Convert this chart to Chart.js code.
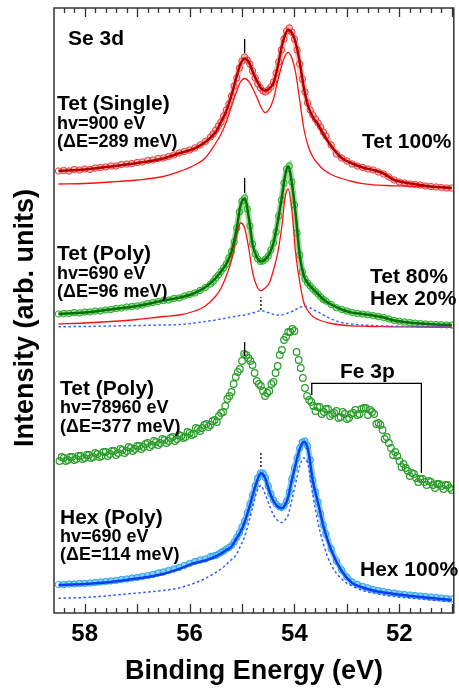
<!DOCTYPE html>
<html>
<head>
<meta charset="utf-8">
<script src="https://cdn.jsdelivr.net/npm/chart.js@4.4.1/dist/chart.umd.min.js"></script>
<style>
  html, body { margin: 0; padding: 0; background: #fff; }
  #wrap { width: 459px; height: 692px; position: relative; }
</style>
</head>
<body>
<div id="wrap"><canvas id="chart"></canvas></div>
<script>
// Se 3d core-level spectra, energies in eV, intensities in arb. units
// (each spectrum already carries its vertical offset)

// energy grid of the densely sampled spectra
const denseEnergy = [
  58.5, 58.4, 58.3, 58.2, 58.1, 58.0, 57.9, 57.8, 57.7, 57.6,
  57.5, 57.4, 57.3, 57.2, 57.1, 57.0, 56.9, 56.8, 56.7, 56.6,
  56.5, 56.4, 56.3, 56.2, 56.1, 56.0, 55.9, 55.8, 55.7, 55.6,
  55.55, 55.5, 55.45, 55.4, 55.35, 55.3, 55.25, 55.2, 55.15, 55.1,
  55.05, 55.0, 54.95, 54.9, 54.85, 54.8, 54.75, 54.7, 54.65, 54.6,
  54.55, 54.5, 54.45, 54.4, 54.35, 54.3, 54.25, 54.2, 54.15, 54.1,
  54.05, 54.0, 53.95, 53.9, 53.85, 53.8, 53.75, 53.7, 53.65, 53.6,
  53.55, 53.5, 53.45, 53.4, 53.3, 53.2, 53.1, 53.0, 52.9, 52.8,
  52.7, 52.6, 52.5, 52.4, 52.3, 52.2, 52.1, 52.0, 51.9, 51.8,
  51.7, 51.6, 51.5, 51.4, 51.3, 51.2, 51.1, 51.0
];

// Tet (Single), hv=900 eV
const tetSingleData = [
  442, 442.5, 442, 443.5, 443, 444, 443.5, 445, 445.5, 446,
  447, 447, 448.5, 449, 449.5, 450.5, 451, 452.5, 453, 454.5,
  455, 456.5, 458, 460, 461.5, 463, 465, 468, 471.5, 476,
  479, 483, 487, 491, 497, 503, 509, 517, 527, 535,
  545, 552, 556, 553, 549, 542, 535, 529, 525, 522,
  521, 523, 526, 531, 540, 551, 563, 574, 582, 585,
  581, 574, 563, 549, 534, 521, 510, 503, 498, 494,
  490, 486, 481, 477, 468, 459, 455, 452, 449, 447,
  445.5, 444, 443, 441, 439, 436, 433, 431, 430, 429,
  428.5, 428, 427, 426.5, 426, 425.5, 425, 425
];

// Tet (Poly), hv=690 eV
const tetPolyData = [
  299, 299.5, 299.5, 300.5, 300, 301, 301, 302, 302, 303,
  303.5, 304.5, 305, 306, 306.5, 307, 308, 309.5, 310.5, 311.5,
  312.5, 313, 314.5, 315, 317, 318.5, 320, 322.5, 325.5, 329,
  331.5, 335, 338, 341.5, 345, 349, 355, 361.5, 371, 385,
  401, 412, 415, 404, 387, 369, 359, 354, 351.5, 352,
  354, 357, 363, 370, 381, 397, 413, 430, 444, 447,
  431, 408, 380, 358, 341, 334, 330, 327, 324, 321.5,
  319, 316, 313.5, 312, 308.5, 305.3, 303.5, 302, 300.5, 299.5,
  299, 298.2, 297.4, 296.5, 295.5, 294, 292.5, 291.7, 291, 290.4,
  289.9, 289.4, 289, 288.7, 288.5, 288.3, 288.1, 288
];

// Hex (Poly), hv=690 eV
const hexPolyData = [
  28.5, 28.5, 29, 29, 29.5, 29.5, 30, 30.5, 31, 31.5,
  32, 32.5, 33.5, 34, 35, 35.5, 36.5, 37.5, 38.5, 40,
  41, 42.5, 44, 45.5, 47.5, 49.5, 51.5, 53, 54, 56.5,
  57, 57.5, 59, 60.5, 62, 64, 65.5, 67.5, 71, 75.5,
  80, 86, 92, 100, 109, 118, 127, 135, 140, 140,
  135, 127, 119, 113, 109, 106.5, 105.5, 107, 112, 121,
  134, 145, 155, 165, 171, 172, 167, 153, 133, 121,
  111, 99, 88, 79, 64, 52, 43, 36, 31, 28.5,
  26.5, 25, 23.5, 22.5, 21.5, 20.5, 20, 19, 18.5, 18,
  17.5, 17, 16.5, 16, 15.5, 15, 14.5, 14
];

// Tet (Poly), hv=78960 eV (sparse, noisy)
const hardEnergy = [
  58.48, 58.40, 58.32, 58.24, 58.16, 58.08, 58.00, 57.92, 57.84, 57.76,
  57.68, 57.60, 57.52, 57.44, 57.36, 57.28, 57.20, 57.12, 57.04, 56.96,
  56.88, 56.80, 56.72, 56.64, 56.56, 56.48, 56.40, 56.32, 56.24, 56.16,
  56.08, 56.00, 55.92, 55.84, 55.76, 55.68, 55.60, 55.52, 55.44, 55.36,
  55.32, 55.28, 55.24, 55.20, 55.16, 55.12, 55.08, 55.04, 55.00, 54.96,
  54.92, 54.88, 54.84, 54.80, 54.76, 54.72, 54.68, 54.64, 54.60, 54.56,
  54.52, 54.48, 54.44, 54.40, 54.36, 54.32, 54.28, 54.24, 54.20, 54.16,
  54.12, 54.08, 54.04, 54.00, 53.96, 53.92, 53.88, 53.84, 53.80, 53.76,
  53.72, 53.68, 53.64, 53.60, 53.52, 53.44, 53.36, 53.28, 53.20, 53.12,
  53.04, 52.96, 52.88, 52.80, 52.72, 52.64, 52.56, 52.48, 52.40, 52.32,
  52.24, 52.16, 52.08, 52.00, 51.92, 51.84, 51.76, 51.68, 51.60, 51.52,
  51.44, 51.36, 51.28, 51.20, 51.12, 51.04,
  // in-between readings of the flat parts
  58.44, 58.36, 58.28, 58.20, 58.12, 58.04, 57.96, 57.88, 57.80, 57.72,
  57.64, 57.56, 57.48, 57.40, 57.32, 57.24, 57.16, 57.08, 57.00, 56.92,
  56.84, 56.76, 56.68, 56.60, 56.52, 56.44, 56.36, 56.28, 56.20, 56.12,
  56.04, 55.96, 55.88, 55.80, 55.72, 55.64, 55.56, 55.48, 55.40,
  53.56, 53.48, 53.40, 53.32, 53.24, 53.16, 53.08, 53.00, 52.92, 52.84,
  52.76, 52.68, 52.60, 52.52, 52.44, 52.36, 52.28, 52.20, 52.12, 52.04,
  51.96, 51.88, 51.80, 51.72, 51.64, 51.56, 51.48, 51.40, 51.32, 51.24,
  51.16, 51.08, 51.00
];
const hardData = [
  152, 155, 153, 156, 154, 157, 155, 158, 156, 159,
  157, 161, 159, 162, 160, 163, 162, 165, 164, 167,
  166, 170, 168, 171, 170, 173, 172, 176, 174, 177,
  176, 180, 179, 184, 185, 189, 188, 193, 197, 201,
  207, 214, 217, 221, 229, 236, 241, 244, 252, 259,
  258, 255, 252, 248, 240, 232, 229, 227, 222, 217,
  220, 222, 229, 231, 240, 247, 258, 263, 273, 276,
  281, 281, 284, 282, 261, 253, 245, 235, 225, 217,
  213, 211, 207, 202, 206, 201, 204, 199, 202, 196,
  199, 195, 200, 198, 204, 205, 203, 199, 190, 183,
  176, 165, 161, 152, 149, 142, 140, 135, 134, 131,
  132, 128, 129, 127, 128, 125,
  156, 152, 156, 153, 157, 154, 158, 155, 160, 156,
  161, 157, 162, 158, 164, 160, 166, 162, 167, 164,
  169, 166, 172, 168, 174, 170, 175, 172, 178, 175,
  181, 178, 185, 182, 188, 186, 192, 191, 200,
  206, 199, 204, 197, 200, 195, 201, 194, 199, 203,
  199, 205, 198, 201, 189, 188, 174, 170, 158, 157,
  146, 145, 137, 139, 131, 134, 128, 131, 125, 129,
  124, 128, 123
];

// energy grid of the fitted curves
const fitEnergy = [
  58.5, 58.0, 57.5, 57.0, 56.5, 56.2, 55.9, 55.7, 55.5, 55.4,
  55.3, 55.2, 55.1, 55.03, 54.95, 54.87, 54.8, 54.72, 54.64, 54.56,
  54.48, 54.4, 54.32, 54.24, 54.18, 54.12, 54.05, 53.98, 53.9, 53.82,
  53.74, 53.65, 53.55, 53.45, 53.3, 53.1, 52.9, 52.7, 52.5, 52.3,
  52.1, 51.9, 51.6, 51.3, 51.0
];
const tetSingleFit = [
  442, 443.5, 446.5, 450, 454.5, 459.7, 464.7, 471, 481, 491,
  502, 518, 537, 549, 554.5, 551, 542, 532.5, 525, 522.3,
  524.5, 530, 546, 567, 578, 583, 580, 571, 551, 525,
  507, 496, 488.5, 479, 467, 455, 449.5, 445.5, 443, 439.5,
  433, 430.5, 428, 426, 425
];
const tetSingleTet = [
  429, 429.5, 431, 433, 436.5, 441.3, 448, 455, 470, 479,
  491, 507, 522, 531, 534.5, 531.5, 525, 516, 506, 500.3,
  504, 514, 532, 548, 557, 560.7, 555, 541, 513, 484,
  467, 456, 449, 443.5, 438.5, 434.5, 431.5, 429.3, 428.2, 427.7,
  427.2, 427, 426.5, 426, 425.5
];
const tetPolyFit = [
  299, 300.5, 303.6, 307, 312.4, 315.2, 320, 325.7, 335, 341.5,
  349, 361.5, 385, 407, 414.5, 395, 369, 356, 351.5, 353.5,
  359, 370, 391, 416, 437, 446.5, 430, 400, 358, 337,
  329.5, 324, 319, 313.5, 308.5, 303.5, 300.4, 299, 297.4, 295.5,
  292.5, 291, 289.4, 288.5, 288
];
const tetPolyTet = [
  289, 290, 291.5, 293.5, 296.5, 298, 302, 307, 317, 325,
  337, 353, 378, 390, 385, 364, 341, 327, 322.3, 325,
  330, 343, 360, 387, 415, 424, 403, 361, 331, 310,
  302, 296.5, 293.5, 291.5, 289.5, 288, 287.2, 286.8, 286.5, 286.3,
  286.2, 286.1, 286, 286, 286
];
const tetPolyHex = [
  286.3, 286.5, 287, 287.5, 288, 288.5, 290, 291.5, 293, 294,
  295, 296, 297, 297.5, 298, 299, 300, 301.2, 302.3, 301.5,
  300, 298.5, 298, 298, 299, 300, 301.5, 303.5, 305.5, 307,
  306, 303.5, 301, 298, 294, 290.5, 289, 288, 287.5, 287,
  286.8, 286.6, 286.4, 286.3, 286.3
];
const hexPolyFit = [
  28, 29, 31, 34.5, 39, 44, 50, 52.5, 56.5, 59.5,
  63, 66.5, 75, 81, 91, 104, 117, 131, 139.7, 135,
  122, 112, 106.5, 104.7, 108, 116, 133, 148, 164, 171.3,
  163, 132, 110, 87, 63, 42, 30, 25.5, 22.5, 20.5,
  19, 17.7, 16, 14.5, 13
];
const hexPolyHex = [
  14.7, 15.5, 17.5, 20, 22.5, 25, 30, 34.5, 40.5, 44,
  48.5, 53.5, 59, 67, 76.3, 91, 105, 121, 127.5, 119,
  108, 98, 92.5, 90.5, 93, 98, 113, 129, 147, 155,
  148, 118, 90, 69, 48, 34, 27, 22.5, 20, 18,
  16.5, 15.5, 14, 12.5, 11.3
];

// peak markers: energy and [low, high] intensity of each tick
const tetPeakEnergy = 54.95;
const hexPeakEnergy = 54.64;
const tetSingleMark = [560, 574];
const tetPolyMark = [420, 435];
const hardMark = [257, 271];
const tetPolyHexMark = [303, 316];
const hexPolyMark = [146, 161];

// Fe 3p bracket
const feBracketEnergy = [53.67, 53.67, 51.58, 51.58];
const feBracketLevel = [218, 229.7, 229.7, 140];

const xTickLabels = [58, 56, 54, 52];

const FONT = '"Liberation Sans", Arial, Helvetica, sans-serif';

const pts = (xs, ys) => xs.map((x, i) => ({ x: x, y: ys[i] }));

function dataSeries(ys, color, band) {
  return {
    data: pts(denseEnergy, ys),
    showLine: true,
    borderColor: band,
    borderWidth: 6,
    pointRadius: 3.2,
    pointBorderWidth: 1,
    pointBorderColor: color,
    pointBackgroundColor: 'rgba(255,255,255,0)',
    order: 3
  };
}

function fitLine(ys, color, width, dash) {
  return {
    data: pts(fitEnergy, ys),
    borderColor: color,
    borderWidth: width,
    borderDash: dash || [],
    pointRadius: 0,
    cubicInterpolationMode: 'monotone',
    order: dash ? 1 : 2
  };
}

function marker(energy, range, dashed) {
  return {
    data: pts([energy, energy], range),
    borderColor: '#000',
    borderWidth: 1.3,
    borderDash: dashed ? [2, 2] : [],
    pointRadius: 0,
    order: 0
  };
}

// inward ticks and box frame
const frameTicks = {
  id: 'frameTicks',
  afterDatasetsDraw(chart) {
    const { ctx, chartArea: a, scales: { x } } = chart;
    ctx.save();
    ctx.strokeStyle = '#333';
    ctx.lineWidth = 1.3;
    for (let v = 510; v <= 584; v += 2) {
      const px = Math.round(x.getPixelForValue(v / 10)) + 0.5;
      const len = v % 10 === 0 ? 9 : 5;
      ctx.beginPath();
      ctx.moveTo(px, a.top); ctx.lineTo(px, a.top + len);
      ctx.moveTo(px, a.bottom); ctx.lineTo(px, a.bottom - len);
      ctx.stroke();
    }
    ctx.lineWidth = 1.5;
    ctx.strokeRect(a.left, a.top, a.right - a.left, a.bottom - a.top);
    ctx.restore();
  }
};

// panel annotations
const panelText = [
  ['Se 3d', 68, 45, 21],
  ['Tet (Single)', 57, 110, 21], ['hv=900 eV', 57, 129, 18], ['(\u0394E=289 meV)', 57, 147, 18],
  ['Tet 100%', 362, 148, 21],
  ['Tet (Poly)', 57, 260, 21], ['hv=690 eV', 57, 279, 18], ['(\u0394E=96 meV)', 57, 297, 18],
  ['Tet 80%', 370, 283, 21], ['Hex 20%', 370, 305, 21],
  ['Tet (Poly)', 60, 395, 21], ['hv=78960 eV', 60, 413, 18], ['(\u0394E=377 meV)', 60, 432, 18],
  ['Fe 3p', 340, 378, 21],
  ['Hex (Poly)', 60, 524, 21], ['hv=690 eV', 60, 542, 18], ['(\u0394E=114 meV)', 60, 560, 18],
  ['Hex 100%', 360, 576, 21]
];

const annotations = {
  id: 'annotations',
  afterDatasetsDraw(chart) {
    const ctx = chart.ctx;
    ctx.save();
    ctx.fillStyle = '#000';
    ctx.textBaseline = 'alphabetic';
    ctx.textAlign = 'left';
    panelText.forEach(([text, x, y, size]) => {
      ctx.font = `bold ${size}px ${FONT}`;
      ctx.fillText(text, x, y);
    });
    ctx.restore();
  }
};

new Chart(document.getElementById('chart'), {
  type: 'line',
  data: {
    datasets: [
      dataSeries(tetSingleData, '#ee3b3b', 'rgba(238,70,70,0.35)'),
      fitLine(tetSingleFit, '#b00000', 2.5),
      fitLine(tetSingleTet, '#ff1010', 1.3),

      dataSeries(tetPolyData, '#21b121', 'rgba(33,177,33,0.45)'),
      fitLine(tetPolyFit, '#0b6e0b', 2.5),
      fitLine(tetPolyTet, '#ff1010', 1.3),
      fitLine(tetPolyHex, '#3366ff', 1.5, [2.5, 2.5]),

      {
        data: pts(hardEnergy, hardData),
        showLine: false,
        pointRadius: 3.3,
        pointBorderWidth: 1.2,
        pointBorderColor: '#2a9d2a',
        pointBackgroundColor: 'rgba(255,255,255,0)',
        order: 3
      },

      dataSeries(hexPolyData, '#2aa6f0', 'rgba(42,166,240,0.55)'),
      fitLine(hexPolyFit, '#0a3ff0', 2.5),
      fitLine(hexPolyHex, '#2f5cff', 1.5, [2.5, 2.5]),

      marker(tetPeakEnergy, tetSingleMark),
      marker(tetPeakEnergy, tetPolyMark),
      marker(tetPeakEnergy, hardMark),
      marker(hexPeakEnergy, tetPolyHexMark, true),
      marker(hexPeakEnergy, hexPolyMark, true),
      {
        data: pts(feBracketEnergy, feBracketLevel),
        borderColor: '#000',
        borderWidth: 1.3,
        pointRadius: 0,
        order: 0
      }
    ]
  },
  options: {
    responsive: true,
    maintainAspectRatio: false,
    animation: false,
    layout: { padding: { top: 8, right: 1, left: 0, bottom: 0 } },
    plugins: {
      legend: { display: false },
      tooltip: { enabled: false }
    },
    scales: {
      x: {
        type: 'linear',
        reverse: true,
        min: 50.962,
        max: 58.585,
        grid: { display: false, drawTicks: false },
        border: { display: false },
        afterBuildTicks: (s) => { s.ticks = xTickLabels.map(v => ({ value: v })); },
        afterFit: (s) => { s.height = 79; },
        ticks: {
          color: '#000',
          padding: 7,
          maxRotation: 0,
          font: { family: FONT, size: 24, weight: 'bold' }
        },
        title: {
          display: true,
          text: 'Binding Energy (eV)',
          color: '#000',
          font: { family: FONT, size: 27, weight: 'bold' },
          padding: { top: 0, bottom: 4 }
        }
      },
      y: {
        type: 'linear',
        min: 0,
        max: 605,
        grid: { display: false, drawTicks: false },
        border: { display: false },
        ticks: { display: false },
        afterFit: (s) => { s.width = 54; },
        title: {
          display: true,
          text: 'Intensity (arb. units)  ',
          color: '#000',
          font: { family: FONT, size: 27, weight: 'bold' },
          padding: { top: 9, bottom: 0 }
        }
      }
    }
  },
  plugins: [frameTicks, annotations]
});
</script>
</body>
</html>
